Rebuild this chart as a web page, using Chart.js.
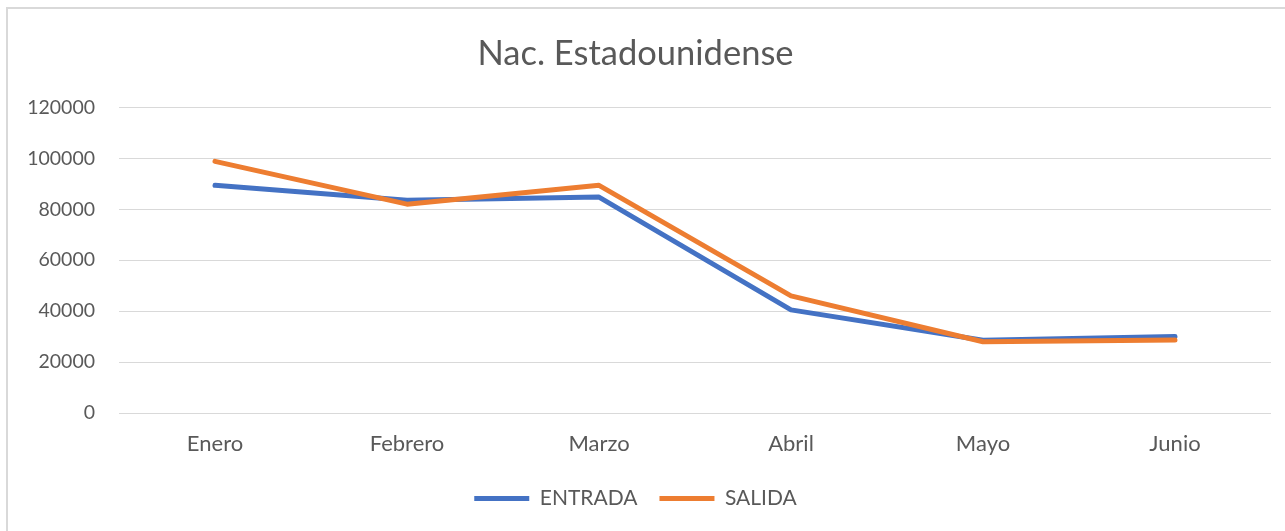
<!DOCTYPE html>
<html>
<head>
<meta charset="utf-8">
<script src="https://cdn.jsdelivr.net/npm/chart.js@4.4.1/dist/chart.umd.min.js"></script>
<style>
  html, body { margin: 0; padding: 0; background: #fff; }
  #wrap { position: relative; width: 1285px; height: 531px; }
  #frame { position: absolute; left: 6px; top: 7px; right: -4px; bottom: -4px; border-left: 2px solid #d9d9d9; border-top: 2px solid #d9d9d9; }
  canvas { position: absolute; left: 0; top: 0; }
</style>
</head>
<body>
<div id="wrap">
  <div id="frame"></div>
  <canvas id="lineChart" width="1285" height="531"></canvas>
</div>
<script>
const months = ['Enero', 'Febrero', 'Marzo', 'Abril', 'Mayo', 'Junio'];
const entrada = [89400, 83500, 84800, 40500, 28600, 30000];
const salida = [98800, 82000, 89400, 46000, 28000, 28700];

const textColor = '#595959';
const gridColor = '#d9d9d9';
const font = 'Lato, "Open Sans", sans-serif';

const ctx = document.getElementById('lineChart').getContext('2d');
const lineChart = new Chart(ctx, {
    type: 'line',
    data: {
        labels: months,
        datasets: [
            { label: 'ENTRADA', data: entrada, borderColor: '#4472c4', backgroundColor: '#4472c4', order: 1 },
            { label: 'SALIDA', data: salida, borderColor: '#ed7d31', backgroundColor: '#ed7d31', order: 0 }
        ]
    },
    options: {
        responsive: false,
        animation: false,
        layout: { padding: { left: 0, right: 14, top: 0, bottom: 12 } },
        elements: {
            line: { borderWidth: 5, tension: 0, borderCapStyle: 'round', borderJoinStyle: 'round' },
            point: { radius: 0, hoverRadius: 0 }
        },
        plugins: {
            title: {
                display: true,
                text: 'Nac. Estadounidense',
                color: textColor,
                font: { family: font, size: 34.5, weight: 'normal' },
                padding: { top: 33, bottom: 33 }
            },
            legend: {
                position: 'bottom',
                labels: {
                    color: textColor,
                    font: { family: font, size: 21 },
                    boxWidth: 55,
                    boxHeight: 5,
                    padding: 22,
                    sort: (a, b) => a.datasetIndex - b.datasetIndex,
                    generateLabels: chart => chart.data.datasets.map((ds, i) => ({
                        text: ds.label,
                        fillStyle: ds.borderColor,
                        strokeStyle: ds.borderColor,
                        lineWidth: 0,
                        fontColor: textColor,
                        datasetIndex: i
                    }))
                }
            },
            tooltip: { enabled: false }
        },
        scales: {
            x: {
                offset: true,
                grid: { display: false },
                border: { display: false },
                ticks: { color: textColor, font: { family: font, size: 22 }, padding: 10 },
                afterFit: scale => { scale.height = 53; }
            },
            y: {
                min: 0,
                max: 120000,
                ticks: {
                    stepSize: 20000,
                    color: textColor,
                    font: { family: font, size: 19.5 },
                    padding: 24,
                    callback: v => String(v)
                },
                grid: { color: gridColor, lineWidth: 1, drawTicks: false },
                border: { display: false },
                afterFit: scale => { scale.width = 119; }
            }
        }
    }
});
</script>
</body>
</html>
